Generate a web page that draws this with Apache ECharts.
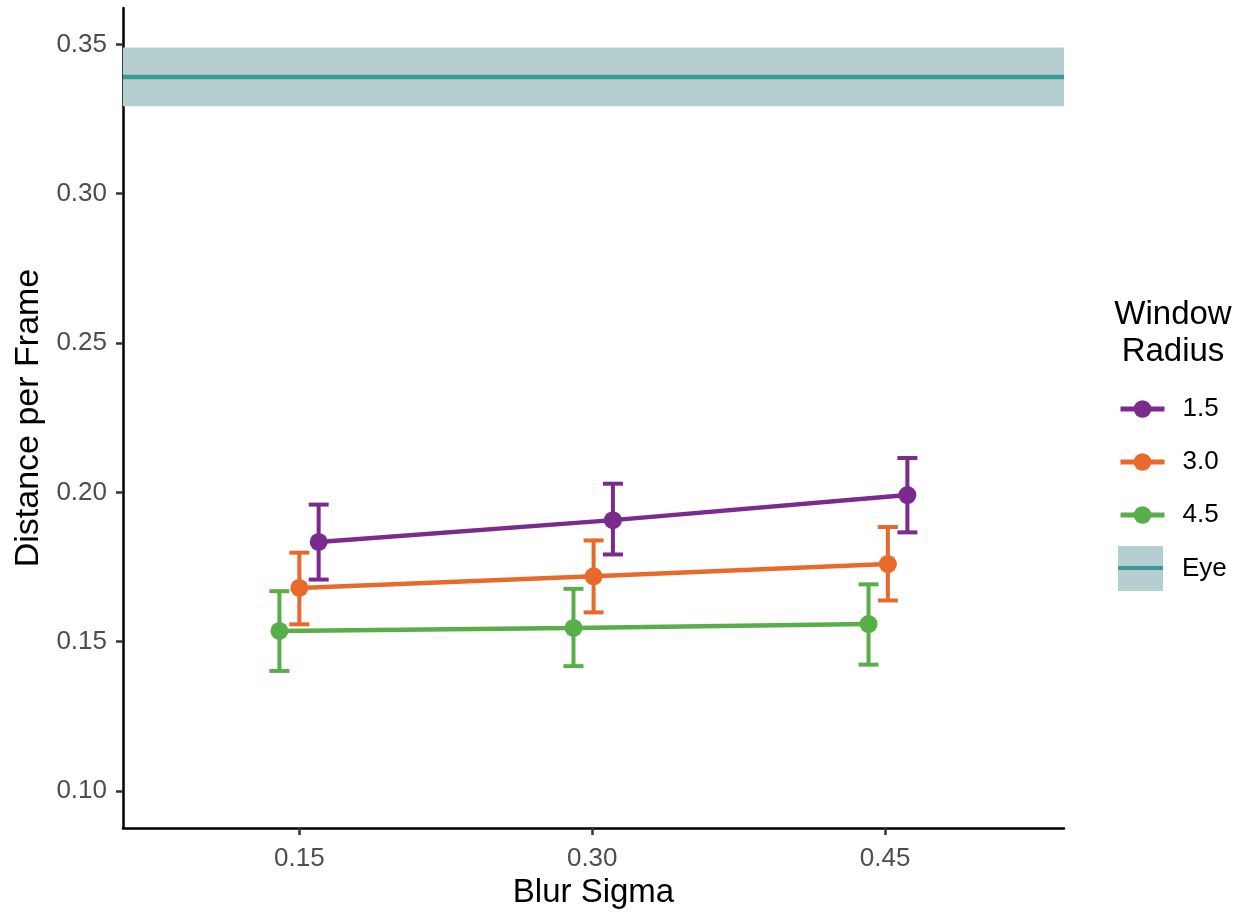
<!DOCTYPE html>
<html>
<head>
<meta charset="utf-8">
<script src="https://cdn.jsdelivr.net/npm/echarts@6/dist/echarts.min.js"></script>
<style>
  html, body { margin: 0; padding: 0; background: #fff; }
  #chart { width: 1245px; height: 912px; }
</style>
</head>
<body>
<div id="chart"></div>
<script>
// window radius groups
var groups = ['1.5', '3.0', '4.5'];
var colors = ['#7B2A8E', '#E8692A', '#58AE48'];

// blur sigma positions (dodged as in the picture)
var xs15 = [0.1599, 0.3106, 0.4614];
var xs30 = [0.1500, 0.3007, 0.4514];
var xs45 = [0.1398, 0.2904, 0.4415];

// mean distance per frame
var mean15 = [0.1834, 0.1907, 0.1991];
var mean30 = [0.1680, 0.1719, 0.1760];
var mean45 = [0.1536, 0.1546, 0.1559];

// error bars
var low15 = [0.1708, 0.1792, 0.1866];
var high15 = [0.1959, 0.2029, 0.2115];
var low30 = [0.1558, 0.1598, 0.1638];
var high30 = [0.1798, 0.1839, 0.1884];
var low45 = [0.1402, 0.1418, 0.1423];
var high45 = [0.1669, 0.1677, 0.1692];

// eye reference
var eyeMean = 0.3391;
var eyeLow = 0.3293;
var eyeHigh = 0.3490;

var xTicks = [0.15, 0.30, 0.45];
var yTicks = [0.10, 0.15, 0.20, 0.25, 0.30, 0.35];

var xMin = 0.0597, xMax = 0.5416;
var yMin = 0.0876, yMax = 0.3622;

var myChart = echarts.init(document.getElementById('chart'));

var allX = [xs15, xs30, xs45];
var allMean = [mean15, mean30, mean45];
var allLow = [low15, low30, low45];
var allHigh = [high15, high30, high45];

var series = [];

// eye band + line
series.push({
    name: 'Eye',
    type: 'custom',
    silent: true,
    z: 1,
    data: [[eyeMean, eyeLow, eyeHigh]],
    renderItem: function (params, api) {
        var pLo = api.coord([xMin, api.value(1)]);
        var pHi = api.coord([xMax, api.value(2)]);
        var pM = api.coord([xMin, api.value(0)]);
        var pM2 = api.coord([xMax, api.value(0)]);
        return {
            type: 'group',
            children: [
                {
                    type: 'rect',
                    shape: { x: pLo[0], y: pHi[1], width: pHi[0] - pLo[0], height: pLo[1] - pHi[1] },
                    style: { fill: '#B5CFD0' }
                },
                {
                    type: 'line',
                    shape: { x1: pM[0], y1: pM[1], x2: pM2[0], y2: pM2[1] },
                    style: { stroke: '#3A9A9A', lineWidth: 4.5 }
                }
            ]
        };
    }
});

for (var g = 0; g < groups.length; g++) {
    var errData = [];
    var lineData = [];
    for (var i = 0; i < allX[g].length; i++) {
        errData.push([allX[g][i], allLow[g][i], allHigh[g][i]]);
        lineData.push([allX[g][i], allMean[g][i]]);
    }
    series.push({
        name: groups[g] + ' err',
        type: 'custom',
        silent: true,
        z: 2,
        itemStyle: { color: colors[g] },
        data: errData,
        renderItem: (function (col) {
            return function (params, api) {
                var lo = api.coord([api.value(0), api.value(1)]);
                var hi = api.coord([api.value(0), api.value(2)]);
                var hw = 10;
                var st = { stroke: col, lineWidth: 4 };
                return {
                    type: 'group',
                    children: [
                        { type: 'line', shape: { x1: lo[0], y1: lo[1], x2: hi[0], y2: hi[1] }, style: st },
                        { type: 'line', shape: { x1: lo[0] - hw, y1: lo[1], x2: lo[0] + hw, y2: lo[1] }, style: st },
                        { type: 'line', shape: { x1: hi[0] - hw, y1: hi[1], x2: hi[0] + hw, y2: hi[1] }, style: st }
                    ]
                };
            };
        })(colors[g])
    });
    series.push({
        name: groups[g],
        type: 'line',
        z: 3,
        data: lineData,
        symbol: 'circle',
        symbolSize: 18,
        showSymbol: true,
        color: colors[g],
        lineStyle: { width: 4.5, color: colors[g] },
        itemStyle: { color: colors[g] },
        animation: false
    });
}

var option = {
    animation: false,
    backgroundColor: '#fff',
    grid: { left: 123, right: 181, top: 8, bottom: 84, outerBoundsMode: 'none' },
    xAxis: {
        type: 'value',
        min: xMin,
        max: xMax,
        name: 'Blur Sigma',
        nameLocation: 'middle',
        nameGap: 45,
        nameTextStyle: { fontFamily: 'Liberation Sans', fontSize: 33, color: '#000' },
        splitLine: { show: false },
        axisLine: { show: true, lineStyle: { color: '#000', width: 2.5 } },
        axisTick: { show: true, customValues: xTicks, length: 7, lineStyle: { color: '#333', width: 2.5 } },
        axisLabel: {
            customValues: xTicks,
            margin: 18,
            fontFamily: 'Liberation Sans', fontSize: 26, color: '#4d4d4d',
            formatter: function (v) { return v.toFixed(2); }
        }
    },
    yAxis: {
        type: 'value',
        min: yMin,
        max: yMax,
        name: 'Distance per Frame',
        nameLocation: 'middle',
        nameGap: 77,
        nameTextStyle: { fontFamily: 'Liberation Sans', fontSize: 34, color: '#000' },
        splitLine: { show: false },
        axisLine: { show: true, lineStyle: { color: '#000', width: 2.5 } },
        axisTick: { show: true, customValues: yTicks, length: 7, lineStyle: { color: '#333', width: 2.5 } },
        axisLabel: {
            customValues: yTicks,
            margin: 16,
            fontFamily: 'Liberation Sans', fontSize: 26, color: '#4d4d4d',
            formatter: function (v) { return v.toFixed(2); }
        }
    },
    legend: {
        data: groups,
        orient: 'vertical',
        left: 1113,
        top: 391,
        itemWidth: 44,
        itemHeight: 22,
        itemGap: 27,
        selectedMode: false,
        lineStyle: { width: 5 },
        textStyle: { fontFamily: 'Liberation Sans', fontSize: 26, color: '#000', padding: [0, 0, 0, 13] }
    },
    graphic: [
        {
            type: 'text', x: 1173, y: 315,
            style: { text: 'Window', font: '33px "Liberation Sans"', fill: '#000', align: 'center', verticalAlign: 'middle' }
        },
        {
            type: 'text', x: 1173, y: 352,
            style: { text: 'Radius', font: '33px "Liberation Sans"', fill: '#000', align: 'center', verticalAlign: 'middle' }
        },
        {
            type: 'rect', left: 1118, top: 546,
            shape: { width: 45, height: 45 },
            style: { fill: '#B5CFD0' }
        },
        {
            type: 'rect', left: 1118, top: 566,
            shape: { width: 45, height: 4 },
            style: { fill: '#3A9A9A' }
        },
        {
            type: 'text', x: 1182, y: 569,
            style: { text: 'Eye', font: '26px "Liberation Sans"', fill: '#000', verticalAlign: 'middle' }
        }
    ],
    series: series
};

myChart.setOption(option);
</script>
</body>
</html>
